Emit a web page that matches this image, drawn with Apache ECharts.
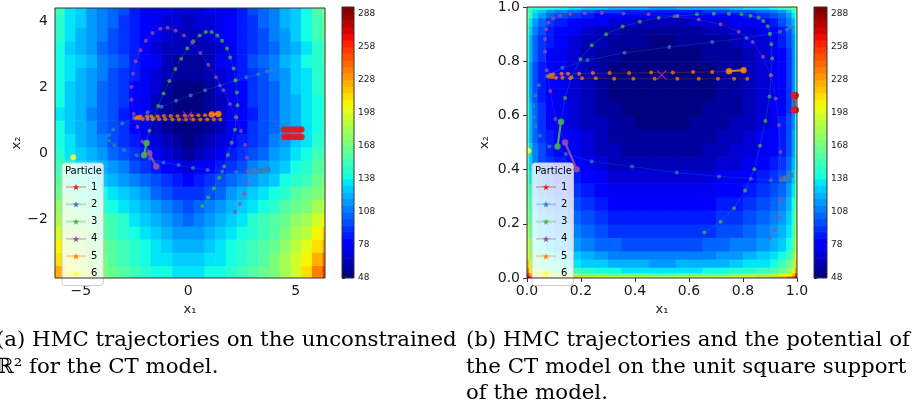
<!DOCTYPE html>
<html>
<head>
<meta charset="utf-8">
<script src="https://cdn.jsdelivr.net/npm/echarts@6/dist/echarts.min.js"></script>
<style>html,body{margin:0;padding:0;background:#fff}#main{width:917px;height:413px}</style>
</head>
<body>
<div id="main"></div>
<script>
// ---- data ----
var particleNames = ['1', '2', '3', '4', '5', '6'];
var particleColors = ['#e41a1c', '#377eb8', '#4daf4a', '#984ea3', '#ff7f00', '#ffff33'];

var levels = [48, 54, 60, 66, 72, 78, 84, 90, 96, 102, 108, 114, 120, 126, 132, 138, 144, 150, 156, 162, 168,
  174, 180, 186, 192, 198, 204, 210, 216, 222, 228, 234, 240, 246, 252, 258, 264, 270, 276, 282, 288, 294];
var cbarTicks = [48, 78, 108, 138, 168, 198, 228, 258, 288];
var leftXTicks = [-5, 0, 5];
var leftYTicks = [-2, 0, 2, 4];

// unconstrained potential, cells (rows go up in x2)
var leftXEdges = [-6.25, -5.75, -5.25, -4.75, -4.25, -3.75, -3.25, -2.75, -2.25, -1.75, -1.25, -0.75, -0.25,
  0.25, 0.75, 1.25, 1.75, 2.25, 2.75, 3.25, 3.75, 4.25, 4.75, 5.25, 5.75, 6.25, 6.75];
var leftYEdges = [-3.8, -3.4, -3.0, -2.6, -2.2, -1.8, -1.4, -1.0, -0.6, -0.2, 0.2, 0.6, 1.0, 1.4, 1.8, 2.2, 2.6, 3.0, 3.4, 3.8, 4.2, 4.6];
var leftPotential = [
  [225, 205, 192, 181, 172, 164, 157, 150, 145, 141, 138, 137, 136, 137, 138, 141, 145, 150, 157, 164, 172, 184, 197, 212, 235, 253],
  [215, 198, 187, 177, 168, 161, 154, 147, 142, 137, 133, 130, 129, 130, 133, 137, 142, 147, 154, 161, 168, 180, 192, 205, 225, 241],
  [205, 191, 182, 173, 165, 158, 151, 144, 138, 133, 128, 124, 122, 124, 128, 133, 138, 144, 151, 158, 165, 176, 187, 198, 215, 229],
  [194, 184, 176, 168, 161, 154, 147, 140, 135, 128, 123, 118, 114, 118, 123, 128, 135, 140, 147, 154, 161, 171, 181, 191, 204, 216],
  [184, 177, 171, 164, 157, 151, 144, 137, 131, 124, 118, 111, 107, 111, 118, 124, 131, 137, 144, 151, 157, 167, 176, 184, 194, 204],
  [175, 168, 162, 155, 148, 142, 135, 129, 123, 116, 110, 103, 99, 103, 110, 116, 123, 129, 135, 142, 148, 157, 165, 172, 180, 188],
  [166, 159, 153, 146, 139, 133, 126, 120, 114, 107, 101, 94, 90, 94, 101, 107, 114, 120, 126, 133, 139, 148, 156, 163, 171, 179],
  [158, 151, 145, 138, 131, 124, 117, 110, 104, 97, 91, 84, 80, 84, 91, 97, 104, 110, 117, 124, 131, 140, 148, 155, 163, 171],
  [151, 144, 136, 129, 122, 115, 108, 100, 93, 85, 79, 72, 69, 72, 79, 85, 93, 100, 108, 115, 122, 131, 139, 148, 156, 164],
  [145, 137, 130, 122, 115, 107, 99, 92, 84, 76, 69, 62, 59, 62, 69, 76, 84, 92, 99, 107, 115, 124, 133, 141, 150, 159],
  [140, 132, 124, 117, 109, 100, 92, 84, 76, 68, 60, 55, 53, 55, 60, 68, 76, 84, 92, 100, 109, 119, 127, 136, 145, 154],
  [138, 130, 122, 114, 106, 98, 90, 82, 73, 65, 57, 52, 50, 52, 57, 65, 73, 82, 90, 98, 106, 116, 125, 134, 143, 152],
  [137, 129, 121, 113, 105, 97, 89, 81, 72, 64, 56, 51, 49, 51, 56, 64, 72, 81, 89, 97, 105, 115, 124, 133, 142, 151],
  [138, 130, 122, 114, 106, 98, 90, 82, 73, 65, 57, 52, 50, 52, 57, 65, 73, 82, 90, 98, 106, 116, 125, 134, 143, 152],
  [139, 131, 123, 115, 107, 99, 91, 83, 74, 66, 58, 53, 51, 53, 58, 66, 74, 83, 91, 99, 107, 117, 126, 135, 144, 153],
  [140, 132, 125, 117, 109, 100, 93, 85, 76, 69, 61, 56, 54, 56, 61, 69, 76, 85, 93, 100, 109, 119, 128, 136, 145, 154],
  [143, 135, 128, 120, 112, 103, 96, 88, 79, 72, 64, 59, 57, 59, 64, 72, 79, 88, 96, 103, 112, 122, 131, 139, 148, 157],
  [143, 130, 121, 114, 106, 98, 91, 84, 77, 70, 65, 61, 60, 61, 65, 70, 77, 84, 91, 98, 106, 116, 124, 134, 149, 160],
  [146, 134, 125, 117, 109, 101, 93, 85, 78, 72, 67, 64, 63, 64, 67, 72, 78, 85, 93, 101, 109, 119, 128, 138, 152, 165],
  [148, 135, 126, 118, 110, 102, 94, 87, 80, 74, 69, 66, 65, 66, 69, 74, 80, 87, 94, 102, 110, 120, 129, 139, 154, 168],
  [150, 134, 126, 119, 112, 104, 96, 89, 82, 76, 72, 69, 68, 69, 72, 76, 82, 89, 96, 104, 112, 121, 129, 138, 156, 173]
];

// unit square potential, cells (same edges on both axes)
var rightEdges = [0, 0.008, 0.02, 0.04, 0.07, 0.1, 0.15, 0.2, 0.25, 0.3, 0.35, 0.4, 0.45, 0.5, 0.55, 0.6, 0.65,
  0.7, 0.75, 0.8, 0.85, 0.9, 0.93, 0.96, 0.98, 0.992, 1];
var rightPotential = [
  [294, 269, 251, 239, 230, 224, 217, 211, 207, 203, 201, 200, 199, 199, 200, 201, 203, 205, 208, 212, 217, 223, 231, 243, 259, 291],
  [261, 231, 213, 201, 192, 186, 179, 173, 169, 165, 163, 162, 161, 161, 162, 163, 165, 167, 170, 174, 179, 185, 193, 205, 221, 253],
  [235, 205, 187, 175, 166, 160, 153, 147, 143, 139, 137, 136, 135, 135, 136, 137, 139, 141, 144, 148, 153, 159, 167, 179, 195, 227],
  [219, 189, 171, 159, 150, 144, 137, 131, 127, 123, 121, 120, 119, 119, 120, 121, 123, 125, 128, 132, 137, 143, 151, 163, 179, 211],
  [208, 178, 160, 148, 139, 133, 126, 120, 116, 112, 110, 109, 108, 108, 109, 110, 112, 114, 117, 121, 126, 132, 140, 152, 168, 200],
  [199, 169, 151, 139, 130, 124, 117, 111, 107, 103, 101, 100, 99, 99, 100, 101, 103, 105, 108, 112, 117, 123, 131, 143, 159, 191],
  [191, 161, 143, 131, 122, 116, 109, 103, 99, 95, 93, 92, 91, 91, 92, 93, 95, 97, 100, 104, 109, 115, 123, 135, 151, 183],
  [185, 155, 137, 125, 116, 110, 103, 97, 93, 89, 87, 86, 85, 85, 86, 87, 89, 91, 94, 98, 103, 109, 117, 129, 145, 177],
  [178, 148, 130, 118, 109, 103, 96, 90, 86, 82, 80, 79, 78, 78, 79, 80, 82, 84, 87, 91, 96, 102, 110, 122, 138, 170],
  [172, 142, 124, 112, 103, 97, 90, 84, 80, 76, 74, 73, 72, 72, 73, 74, 76, 78, 81, 85, 90, 96, 104, 116, 132, 164],
  [166, 136, 118, 106, 97, 91, 84, 78, 74, 70, 68, 67, 66, 66, 67, 68, 70, 72, 75, 79, 84, 90, 98, 110, 126, 158],
  [161, 131, 113, 101, 92, 86, 79, 73, 69, 65, 63, 62, 61, 61, 62, 63, 65, 67, 70, 74, 79, 85, 93, 105, 121, 153],
  [157, 127, 109, 97, 88, 82, 75, 69, 65, 61, 59, 58, 57, 57, 58, 59, 61, 63, 66, 70, 75, 81, 89, 101, 117, 149],
  [154, 124, 106, 94, 85, 79, 72, 66, 62, 58, 56, 55, 54, 54, 55, 56, 58, 60, 63, 67, 72, 78, 86, 98, 114, 146],
  [152, 122, 104, 92, 83, 77, 70, 64, 60, 56, 54, 53, 52, 52, 53, 54, 56, 58, 61, 65, 70, 76, 84, 96, 112, 144],
  [150, 120, 102, 90, 81, 75, 68, 62, 58, 54, 52, 51, 50, 50, 51, 52, 54, 56, 59, 63, 68, 74, 82, 94, 110, 142],
  [149, 119, 101, 89, 80, 74, 67, 61, 57, 53, 51, 50, 49, 49, 50, 51, 53, 55, 58, 62, 67, 73, 81, 93, 109, 141],
  [149, 119, 101, 89, 80, 74, 67, 61, 57, 53, 51, 50, 49, 49, 50, 51, 53, 55, 58, 62, 67, 73, 81, 93, 109, 141],
  [149, 119, 101, 89, 80, 74, 67, 61, 57, 53, 51, 50, 49, 49, 50, 51, 53, 55, 58, 62, 67, 73, 81, 93, 109, 141],
  [150, 120, 102, 90, 81, 75, 68, 62, 58, 54, 52, 51, 50, 50, 51, 52, 54, 56, 59, 63, 68, 74, 82, 94, 110, 142],
  [153, 123, 105, 93, 84, 78, 71, 65, 61, 57, 55, 54, 53, 53, 54, 55, 57, 59, 62, 66, 71, 77, 85, 97, 113, 145],
  [157, 127, 109, 97, 88, 82, 75, 69, 65, 61, 59, 58, 57, 57, 58, 59, 61, 63, 66, 70, 75, 81, 89, 101, 117, 149],
  [164, 134, 116, 104, 95, 89, 82, 76, 72, 68, 66, 65, 64, 64, 65, 66, 68, 70, 73, 77, 82, 88, 96, 108, 124, 156],
  [174, 144, 126, 114, 105, 99, 92, 86, 82, 78, 76, 75, 74, 74, 75, 76, 78, 80, 83, 87, 92, 98, 106, 118, 134, 166],
  [160, 145, 135, 127, 118, 112, 105, 99, 95, 91, 89, 88, 87, 87, 88, 89, 91, 93, 96, 100, 105, 111, 119, 131, 140, 165],
  [160, 150, 145, 145, 145, 140, 137, 131, 127, 123, 121, 120, 119, 119, 120, 121, 123, 125, 128, 132, 137, 143, 151, 155, 162, 175]
];

// trajectories on R^2
var p1L = [[4.45, 0.72], [4.47, 0.49], [4.62, 0.72], [4.64, 0.49], [4.79, 0.72], [4.81, 0.49], [4.96, 0.72], [4.98, 0.49],
  [5.12, 0.72], [5.14, 0.49], [5.26, 0.72], [5.27, 0.49]];
var p2L = [[3.88, 2.54], [3.66, 2.48], [3.26, 2.39], [2.70, 2.30], [2.19, 2.20], [1.47, 2.05], [0.78, 1.91], [0.11, 1.75],
  [-0.57, 1.59], [-1.24, 1.41], [-1.89, 1.24], [-2.53, 1.07], [-3.07, 0.90], [-3.49, 0.72], [-3.69, 0.55], [-3.67, 0.38],
  [-3.44, 0.24], [-2.99, 0.10], [-2.40, -0.06], [-1.78, -0.17], [-1.15, -0.28], [-0.45, -0.36], [0.22, -0.45], [0.90, -0.51],
  [1.58, -0.55], [2.23, -0.57], [2.79, -0.57], [3.07, -0.55], [3.41, -0.53], [3.68, -0.49]];
var p2Lend = [[3.07, -0.55], [3.41, -0.53], [3.68, -0.49]];
var p3L = [[0.65, -1.60], [0.93, -1.34], [1.19, -1.06], [1.44, -0.74], [1.67, -0.40], [1.84, -0.05], [2.02, 0.32], [2.17, 0.71],
  [2.23, 1.09], [2.29, 1.45], [2.26, 1.84], [2.20, 2.21], [2.11, 2.57], [1.95, 2.90], [1.80, 3.17], [1.57, 3.41], [1.35, 3.57],
  [1.09, 3.67], [0.81, 3.67], [0.53, 3.57], [0.23, 3.39], [-0.05, 3.17], [-0.33, 2.86], [-0.60, 2.55], [-0.88, 2.19],
  [-1.15, 1.81], [-1.40, 1.43], [-1.62, 1.05], [-1.81, 0.68], [-1.94, 0.31], [-2.06, -0.06]];
var p3Lend = [[-1.94, 0.31], [-2.06, -0.06]];
var p4L = [[2.17, -1.78], [2.39, -1.54], [2.60, -1.23], [2.73, -0.91], [2.76, -0.54], [2.73, -0.14], [2.64, 0.26], [2.45, 0.67],
  [2.23, 1.09], [1.94, 1.49], [1.63, 1.91], [1.29, 2.30], [0.93, 2.68], [0.56, 3.04], [0.19, 3.35], [-0.20, 3.57], [-0.59, 3.72],
  [-0.96, 3.80], [-1.30, 3.77], [-1.66, 3.64], [-1.97, 3.41], [-2.22, 3.12], [-2.45, 2.79], [-2.57, 2.41], [-2.64, 2.01],
  [-2.64, 1.62], [-2.54, 1.19], [-2.36, 0.80], [-2.14, 0.35], [-1.81, 0.00], [-1.49, -0.40]];
var p4Lend = [[-1.81, 0.00], [-1.49, -0.40]];
var p5L = [[1.49, 1.02], [1.19, 1.02], [0.88, 1.02], [0.56, 1.02], [0.23, 1.02], [-0.11, 1.02], [-0.43, 1.02], [-0.74, 1.02],
  [-1.07, 1.03], [-1.36, 1.03], [-1.66, 1.03], [-1.89, 1.04], [-2.12, 1.04], [-2.28, 1.05], [-2.43, 1.06],
  [-2.36, 1.10], [-2.23, 1.11], [-1.92, 1.12], [-1.72, 1.12], [-1.43, 1.12], [-1.13, 1.13], [-0.82, 1.13], [-0.50, 1.13],
  [-0.16, 1.14], [0.16, 1.14], [0.47, 1.15], [0.78, 1.15], [1.09, 1.17], [1.40, 1.19]];
var p5Lend = [[1.09, 1.17], [1.40, 1.19]];
var p6L = [[-5.35, -0.12]];
var modeL = [[-0.03, 1.12]];

// trajectories on the unit square
var p1R = [[0.9885, 0.673], [0.9887, 0.620], [0.9902, 0.673], [0.9904, 0.620], [0.9918, 0.673], [0.9919, 0.620],
  [0.9930, 0.673], [0.9932, 0.620], [0.9941, 0.673], [0.9942, 0.620], [0.9948, 0.673], [0.9949, 0.620]];
var p2R = [[0.980, 0.927], [0.975, 0.923], [0.963, 0.916], [0.937, 0.909], [0.899, 0.900], [0.813, 0.886], [0.686, 0.871],
  [0.527, 0.852], [0.361, 0.831], [0.224, 0.804], [0.131, 0.776], [0.074, 0.745], [0.044, 0.711], [0.030, 0.673], [0.024, 0.634],
  [0.025, 0.594], [0.031, 0.560], [0.048, 0.525], [0.083, 0.485], [0.144, 0.458], [0.240, 0.430], [0.389, 0.411], [0.555, 0.389],
  [0.711, 0.375], [0.829, 0.366], [0.903, 0.361], [0.942, 0.361], [0.956, 0.366], [0.968, 0.371], [0.975, 0.380]];
var p2Rend = [[0.956, 0.366], [0.968, 0.371], [0.975, 0.380]];
var p3R = [[0.657, 0.168], [0.717, 0.208], [0.767, 0.257], [0.808, 0.323], [0.842, 0.401], [0.863, 0.488], [0.883, 0.579],
  [0.898, 0.670], [0.903, 0.748], [0.908, 0.810], [0.905, 0.863], [0.900, 0.901], [0.892, 0.929], [0.875, 0.948], [0.858, 0.960],
  [0.828, 0.968], [0.794, 0.973], [0.748, 0.975], [0.692, 0.975], [0.629, 0.973], [0.557, 0.967], [0.488, 0.960], [0.418, 0.946],
  [0.354, 0.928], [0.293, 0.899], [0.240, 0.859], [0.198, 0.807], [0.165, 0.741], [0.141, 0.664], [0.126, 0.577], [0.113, 0.485]];
var p3Rend = [[0.126, 0.577], [0.113, 0.485]];
var p4R = [[0.898, 0.144], [0.916, 0.177], [0.931, 0.226], [0.939, 0.287], [0.940, 0.368], [0.939, 0.465], [0.933, 0.565],
  [0.921, 0.662], [0.903, 0.748], [0.874, 0.816], [0.836, 0.871], [0.784, 0.909], [0.717, 0.936], [0.636, 0.954], [0.547, 0.966],
  [0.450, 0.973], [0.357, 0.976], [0.277, 0.978], [0.214, 0.977], [0.160, 0.974], [0.122, 0.968], [0.098, 0.958], [0.079, 0.942],
  [0.071, 0.918], [0.067, 0.882], [0.067, 0.835], [0.073, 0.767], [0.086, 0.690], [0.105, 0.587], [0.141, 0.500], [0.184, 0.401]];
var p4Rend = [[0.141, 0.500], [0.184, 0.401]];
var p5R = [[0.816, 0.735], [0.767, 0.735], [0.707, 0.735], [0.636, 0.735], [0.557, 0.735], [0.473, 0.735], [0.394, 0.735],
  [0.323, 0.735], [0.255, 0.737], [0.204, 0.737], [0.160, 0.737], [0.131, 0.739], [0.107, 0.739], [0.093, 0.741], [0.081, 0.743],
  [0.086, 0.750], [0.097, 0.752], [0.128, 0.754], [0.152, 0.754], [0.193, 0.754], [0.244, 0.756], [0.306, 0.756], [0.378, 0.756],
  [0.460, 0.758], [0.540, 0.758], [0.615, 0.760], [0.686, 0.760], [0.748, 0.763], [0.802, 0.767]];
var p5Rend = [[0.748, 0.763], [0.802, 0.767]];
var p6R = [[0.0047, 0.470]];
var modeR = [[0.499, 0.749]];

// ---- layout ----
var gridL = {left: 55, top: 8, width: 270, height: 270};
var cbarL = {left: 342, top: 7, width: 12, height: 271};
var gridR = {left: 527, top: 7, width: 270, height: 271};
var cbarR = {left: 814, top: 7, width: 13, height: 271};

var jetR = [[0, 0], [0.35, 0], [0.66, 1], [0.89, 1], [1, 0.5]];
var jetG = [[0, 0], [0.125, 0], [0.375, 1], [0.64, 1], [0.91, 0], [1, 0]];
var jetB = [[0, 0.5], [0.11, 1], [0.34, 1], [0.65, 0], [1, 0]];
function seg(pts, t) {
  for (var i = 1; i < pts.length; i++) {
    if (t <= pts[i][0]) {
      var a = pts[i - 1], b = pts[i];
      return a[1] + (b[1] - a[1]) * (t - a[0]) / (b[0] - a[0]);
    }
  }
  return pts[pts.length - 1][1];
}
function jet(t) {
  return 'rgb(' + Math.round(seg(jetR, t) * 255) + ',' + Math.round(seg(jetG, t) * 255) + ',' + Math.round(seg(jetB, t) * 255) + ')';
}
function bandColor(v) {
  var n = levels.length - 1, k = 0;
  while (k < n - 1 && v >= levels[k + 1]) k++;
  return jet(k / (n - 1));
}

function cells(xe, ye, grid) {
  var out = [];
  for (var i = 0; i < grid.length; i++)
    for (var j = 0; j < grid[i].length; j++)
      out.push([xe[j], xe[j + 1], ye[i], ye[i + 1], grid[i][j]]);
  return out;
}
function cbarCells() {
  var out = [];
  for (var k = 0; k < levels.length - 1; k++) out.push([0, 1, levels[k], levels[k + 1], (levels[k] + levels[k + 1]) / 2]);
  return out;
}
function renderCell(params, api) {
  var p0 = api.coord([api.value(0), api.value(3)]);
  var p1 = api.coord([api.value(1), api.value(2)]);
  var cs = params.coordSys;
  var r = echarts.graphic.clipRectByRect(
    {x: p0[0], y: p0[1], width: p1[0] - p0[0] + 0.6, height: p1[1] - p0[1] + 0.6},
    {x: cs.x, y: cs.y, width: cs.width, height: cs.height});
  if (!r) return;
  return {type: 'rect', shape: r, style: {fill: bandColor(api.value(4))}};
}

function fmtMinus(v) { return v < 0 ? '\u2212' + Math.abs(v) : String(v); }
var tickFont = {fontSize: 14, color: '#1a1a1a', fontFamily: 'DejaVu Sans'};
var nameFont = {fontSize: 13, color: '#1a1a1a', fontFamily: 'DejaVu Sans'};
var tickLine = {color: '#333', width: 1};

var starPath = 'path://M0,-10L2.35,-3.24L9.51,-3.09L3.8,1.24L5.88,8.09L0,4L-5.88,8.09L-3.8,1.24L-9.51,-3.09L-2.35,-3.24Z';
var crossPath = 'path://M0,0.8L0.8,0L5,4.2L9.2,0L10,0.8L5.8,5L10,9.2L9.2,10L5,5.8L0.8,10L0,9.2L4.2,5Z';

var series = [
  {type: 'custom', xAxisIndex: 0, yAxisIndex: 0, renderItem: renderCell, data: cells(leftXEdges, leftYEdges, leftPotential), silent: true, z: 1},
  {type: 'custom', xAxisIndex: 1, yAxisIndex: 1, renderItem: renderCell, data: cbarCells(), silent: true, z: 1},
  {type: 'custom', xAxisIndex: 2, yAxisIndex: 2, renderItem: renderCell, data: cells(rightEdges, rightEdges, rightPotential), silent: true, z: 1},
  {type: 'custom', xAxisIndex: 3, yAxisIndex: 3, renderItem: renderCell, data: cbarCells(), silent: true, z: 1}
];

// legend look: faint line with a star marker
particleNames.forEach(function (nm, k) {
  series.push({
    type: 'line', name: nm, xAxisIndex: 0, yAxisIndex: 0, data: [],
    symbol: starPath, symbolKeepAspect: true,
    lineStyle: {width: 1, color: particleColors[k], opacity: 0.3}, itemStyle: {color: particleColors[k]}
  });
});

var panels = [
  {axis: 0, traj: [p1L, p2L, p3L, p4L, p5L, p6L], ends: [p1L, p2Lend, p3Lend, p4Lend, p5Lend, p6L], mode: modeL},
  {axis: 2, traj: [p1R, p2R, p3R, p4R, p5R, p6R], ends: [p1R, p2Rend, p3Rend, p4Rend, p5Rend, p6R], mode: modeR}
];
panels.forEach(function (pn) {
  for (var k = 0; k < 6; k++) {
    var col = particleColors[k];
    series.push({
      type: 'line', name: particleNames[k], xAxisIndex: pn.axis, yAxisIndex: pn.axis, data: pn.traj[k],
      symbol: 'circle', symbolSize: 4, showSymbol: true,
      lineStyle: {width: 0.8, color: col, opacity: 0.3}, itemStyle: {color: col, opacity: 0.75},
      z: 3, silent: true
    });
    series.push({
      type: 'line', name: particleNames[k], xAxisIndex: pn.axis, yAxisIndex: pn.axis, data: pn.ends[k],
      symbol: 'circle', symbolSize: k === 5 ? 6 : 6.5, showSymbol: true,
      lineStyle: {width: k === 0 ? 0 : 2.2, color: col, opacity: 0.9}, itemStyle: {color: col, opacity: 0.85},
      z: 4, silent: true
    });
  }
  series.push({
    type: 'scatter', xAxisIndex: pn.axis, yAxisIndex: pn.axis, data: pn.mode,
    symbol: crossPath, symbolSize: 10, itemStyle: {color: '#c21fc2', opacity: 0.85}, z: 5, silent: true
  });
});

function legendAt(left) {
  return {
    left: left, top: 163, orient: 'vertical', data: particleNames, selectedMode: false,
    padding: [19, 6, 7, 3], itemGap: 7.3, itemWidth: 20, itemHeight: 8,
    backgroundColor: 'rgba(255,255,255,0.8)', borderColor: '#cccccc', borderWidth: 1, borderRadius: 3,
    textStyle: {fontSize: 10, color: '#000', fontFamily: 'DejaVu Sans'}
  };
}
function frame(g) {
  return {type: 'rect', shape: {x: g.left, y: g.top, width: g.width, height: g.height},
    style: {fill: 'none', stroke: '#333', lineWidth: 1}, z: 50, silent: true};
}
function caption(x, y, text) {
  return {type: 'text', x: x, y: y, z: 100, silent: true,
    style: {text: text, font: '21.3px "DejaVu Serif"', fill: '#000', verticalAlign: 'middle'}};
}

var chart = echarts.init(document.getElementById('main'), null, {renderer: 'canvas'});
chart.setOption({
  animation: false,
  backgroundColor: '#fff',
  textStyle: {fontFamily: 'DejaVu Sans'},
  grid: [gridL, cbarL, gridR, cbarR],
  xAxis: [
    {gridIndex: 0, type: 'value', min: -6.2, max: 6.36, axisLine: {show: false}, splitLine: {show: false},
      axisTick: {length: 4, lineStyle: tickLine, customValues: leftXTicks},
      axisLabel: Object.assign({customValues: leftXTicks, formatter: fmtMinus, margin: 6}, tickFont),
      name: 'x\u2081', nameLocation: 'middle', nameGap: 24, nameTextStyle: nameFont},
    {gridIndex: 1, type: 'value', min: 0, max: 1, show: false},
    {gridIndex: 2, type: 'value', min: 0, max: 1, interval: 0.2, axisLine: {show: false}, splitLine: {show: false},
      axisTick: {length: 4, lineStyle: tickLine},
      axisLabel: Object.assign({formatter: function (v) { return v.toFixed(1); }, margin: 6}, tickFont),
      name: 'x\u2081', nameLocation: 'middle', nameGap: 24, nameTextStyle: nameFont},
    {gridIndex: 3, type: 'value', min: 0, max: 1, show: false}
  ],
  yAxis: [
    {gridIndex: 0, type: 'value', min: -3.78, max: 4.40, axisLine: {show: false}, splitLine: {show: false},
      axisTick: {length: 4, lineStyle: tickLine, customValues: leftYTicks},
      axisLabel: Object.assign({customValues: leftYTicks, formatter: fmtMinus, margin: 7}, tickFont),
      name: 'x\u2082', nameLocation: 'middle', nameGap: 32, nameRotate: 90, nameTextStyle: nameFont},
    {gridIndex: 1, type: 'value', position: 'right', min: 48, max: 294, axisLine: {show: false}, splitLine: {show: false},
      axisTick: {length: 3, lineStyle: tickLine, customValues: cbarTicks},
      axisLabel: {customValues: cbarTicks, fontSize: 9, color: '#1a1a1a', margin: 4}},
    {gridIndex: 2, type: 'value', min: 0, max: 1, interval: 0.2, axisLine: {show: false}, splitLine: {show: false},
      axisTick: {length: 4, lineStyle: tickLine},
      axisLabel: Object.assign({formatter: function (v) { return v.toFixed(1); }, margin: 7}, tickFont),
      name: 'x\u2082', nameLocation: 'middle', nameGap: 36, nameRotate: 90, nameTextStyle: nameFont},
    {gridIndex: 3, type: 'value', position: 'right', min: 48, max: 294, axisLine: {show: false}, splitLine: {show: false},
      axisTick: {length: 3, lineStyle: tickLine, customValues: cbarTicks},
      axisLabel: {customValues: cbarTicks, fontSize: 9, color: '#1a1a1a', margin: 4}}
  ],
  legend: [legendAt(62), legendAt(532)],
  graphic: [
    frame(gridL), frame(cbarL), frame(gridR), frame(cbarR),
    {type: 'text', x: 65, y: 171, z: 100, silent: true, style: {text: 'Particle', font: '10px "DejaVu Sans"', fill: '#000', verticalAlign: 'middle'}},
    {type: 'text', x: 535, y: 171, z: 100, silent: true, style: {text: 'Particle', font: '10px "DejaVu Sans"', fill: '#000', verticalAlign: 'middle'}},
    caption(-4, 340, '(a) HMC trajectories on the unconstrained'),
    caption(-4, 367, '\u211d\u00b2 for the CT model.'),
    caption(466, 340, '(b) HMC trajectories and the potential of'),
    caption(466, 367, 'the CT model on the unit square support'),
    caption(466, 393, 'of the model.')
  ],
  series: series
});
</script>
</body>
</html>
